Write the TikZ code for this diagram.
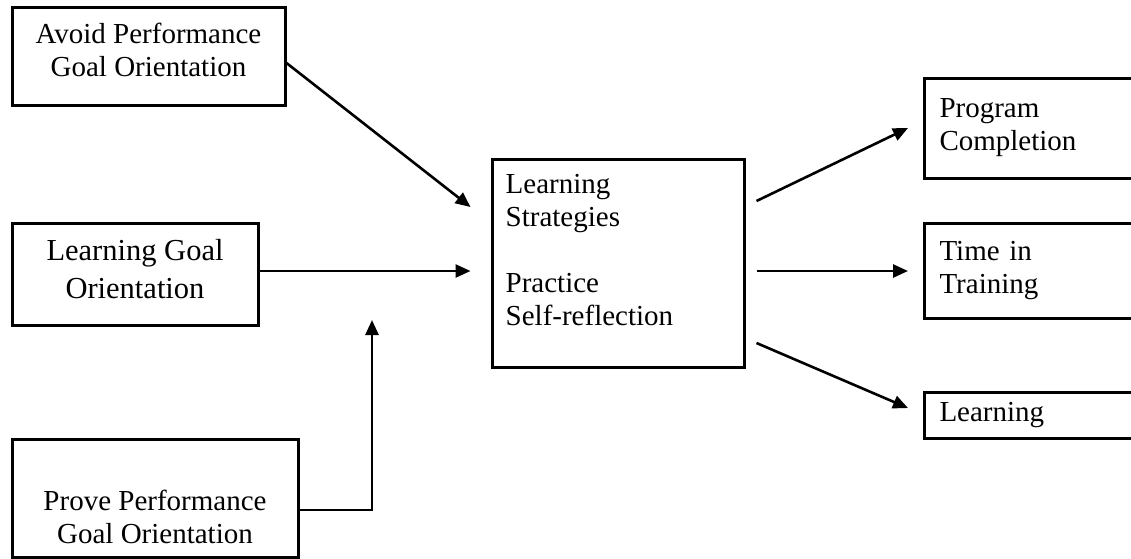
\documentclass[tikz,border=0pt]{standalone}
\usepackage{fontspec}
\setmainfont{Liberation Serif}
\usetikzlibrary{arrows.meta, positioning}

\begin{document}
\begin{tikzpicture}[x=1pt, y=-1pt,
		>={Triangle[length=15pt, width=13pt]},
		box/.style={draw, line width=3pt, inner sep=0pt},
		txt/.style={inner sep=0pt},
		arr/.style={->, line width=2.6pt},
		font=\fontsize{29}{33}\selectfont]

	\useasboundingbox (0,0) rectangle (1131,558);

	% left column
	\node[box, minimum width=273pt, minimum height=98pt] (avoid) at (148.5,56) {};
	\node[txt, align=center] (avoid-t) at ([yshift=6pt]avoid.center) {Avoid Performance\\Goal Orientation};
	\node[box, minimum width=246pt, minimum height=102pt] (lgo) at (135,274) {};
	\node[txt, align=center, font=\fontsize{30.5}{38}\selectfont] (lgo-t) at ([yshift=5pt]lgo.center) {Learning Goal\\Orientation};
	\node[box, minimum width=286pt, minimum height=118pt] (prove) at (155,498) {};
	\node[txt, align=center] (prove-t) at ([yshift=-19pt]prove.center) {Prove Performance\\Goal Orientation};

	% middle
	\node[box, minimum width=252pt, minimum height=208pt] (core) at (618,263) {};
	\node[txt, align=left, anchor=north west] (core-t) at ([xshift=15pt, yshift=-17pt]core.north west) {Learning\\Strategies\\[33pt]Practice\\Self-reflection};

	% outcomes
	\node[box, anchor=west, minimum width=300pt, minimum height=100pt, text width=270pt, inner xsep=15pt, align=left] (prog) at (923,128) {Program\\Completion};
	\node[box, anchor=west, minimum width=300pt, minimum height=95pt, text width=270pt, inner xsep=15pt, align=left] (time) at (923,270.5) {Time in\\Training};
	\node[box, anchor=west, minimum width=300pt, minimum height=46pt, text width=270pt, inner xsep=15pt, align=left] (learn) at (923,415) {Learning};

	% inputs
	\draw[arr] ([yshift=-7pt]avoid.east) -- ([xshift=-20pt, yshift=56pt]core.west);
	\coordinate (in2) at ([yshift=3pt]lgo.east);
	\draw[arr, shorten >=20pt] (in2) -- (in2 -| core.west);
	\coordinate (rise) at (372,320);
	\draw[arr] ([yshift=-12pt]prove.east) -| (rise);

	% outputs
	\draw[arr] ([xshift=11pt, yshift=62pt]core.east) -- ([xshift=-15pt]prog.west);
	\coordinate (out2) at ([xshift=11pt, yshift=-8pt]core.east);
	\draw[arr, shorten >=15pt] (out2) -- (out2 -| time.west);
	\draw[arr] ([xshift=11pt, yshift=-80pt]core.east) -- ([xshift=-15pt, yshift=7pt]learn.west);
\end{tikzpicture}
\end{document}
